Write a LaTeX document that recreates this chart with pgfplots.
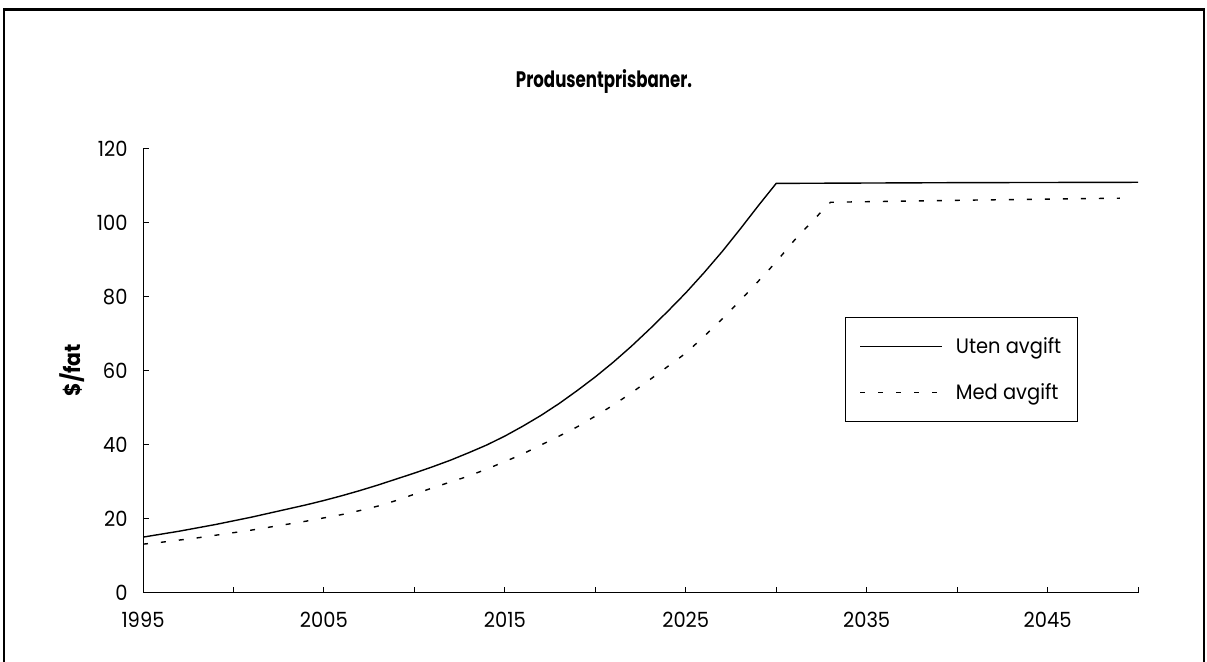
\documentclass[border=0pt]{standalone}
\usepackage{pgfplots}
\pgfplotsset{compat=1.18}
\usepackage{fontspec}
\setmainfont{Poppins}[FakeStretch=0.93]
\newfontfamily\titlefont{Poppins}[FakeStretch=0.74]
\begin{document}
\begin{tikzpicture}[x=1bp,y=1bp]
\useasboundingbox (0,0) rectangle (1207,662);
\draw[line width=1.6bp] (4,0) -- (4,652);
\draw[line width=1.6bp] (1204,0) -- (1204,652);
\draw[line width=3bp] (3,652) -- (1205,652);
\node[font=\titlefont\fontsize{22.5}{26}\selectfont\bfseries] at (604,580) {Produsentprisbaner.};
\node[font=\fontsize{22}{26}\selectfont\bfseries, rotate=90] at (72,292) {\$/fat};
\begin{axis}[
  at={(143bp,69bp)}, anchor=south west,
  scale only axis, width=995bp, height=444bp,
  xmin=1995, xmax=2050, ymin=0, ymax=120,
  axis x line=bottom, axis y line=left,
  axis line style={-, line width=1bp},
  tick align=inside,
  xtick={1995,2005,...,2045},
  minor xtick={2000,2010,...,2050},
  ytick={0,20,...,120},
  major tick length=6bp, minor tick length=6bp,
  tick style={line width=1bp, black},
  /pgf/number format/assume math mode=true,
  /pgf/number format/1000 sep={},
  tick label style={font=\fontsize{21}{25}\selectfont},
  xticklabel style={yshift=-16bp},
  yticklabel style={xshift=-12bp},
  legend style={at={(axis description cs:0.7055,0.6216)}, anchor=north west,
    draw=black, line width=1bp, font=\fontsize{21}{25}\selectfont,
    inner xsep=14bp, inner ysep=18bp, row sep=25bp,
    /tikz/every odd column/.append style={column sep=11bp}},
  legend cell align=left,
  legend image code/.code={\draw[#1] (0bp,0bp) -- (82bp,0bp);},
]
\addplot[black, line width=1.4bp] coordinates {
(1995,15.1)(1996,15.9)(1997,16.7)(1998,17.6)(1999,18.5)(2000,19.5)
(2001,20.5)(2002,21.6)(2003,22.7)(2004,23.8)(2005,25.0)(2006,26.3)
(2007,27.7)(2008,29.2)(2009,30.8)(2010,32.4)(2011,34.1)(2012,35.9)
(2013,37.9)(2014,40.0)(2015,42.4)(2016,45.1)(2017,48.0)(2018,51.2)
(2019,54.7)(2020,58.4)(2021,62.4)(2022,66.7)(2023,71.3)(2024,76.1)
(2025,81.1)(2026,86.5)(2027,92.2)(2028,98.3)(2029,104.6)(2030,110.7)
(2040,110.9)(2050,111.0)
};
\addlegendentry{Uten avgift}
\addplot[black, line width=1.4bp, dash pattern=on 5bp off 13bp] coordinates {
(1995,13.2)(1996,13.7)(1997,14.3)(1998,14.9)(1999,15.6)(2000,16.3)
(2001,17.0)(2002,17.8)(2003,18.6)(2004,19.4)(2005,20.3)(2006,21.2)
(2007,22.3)(2008,23.5)(2009,25.0)(2010,26.7)(2011,28.4)(2012,30.0)
(2013,31.6)(2014,33.5)(2015,35.5)(2016,37.6)(2017,40.0)(2018,42.4)
(2019,44.9)(2020,47.8)(2021,50.8)(2022,54.1)(2023,57.6)(2024,61.2)
(2025,64.8)(2026,69.3)(2027,74.0)(2028,79.0)(2029,84.2)(2030,89.5)
(2031,95.3)(2032,100.5)(2033,105.6)(2041,106.2)(2049,106.7)
};
\addlegendentry{Med avgift}
\end{axis}
\end{tikzpicture}
\end{document}
